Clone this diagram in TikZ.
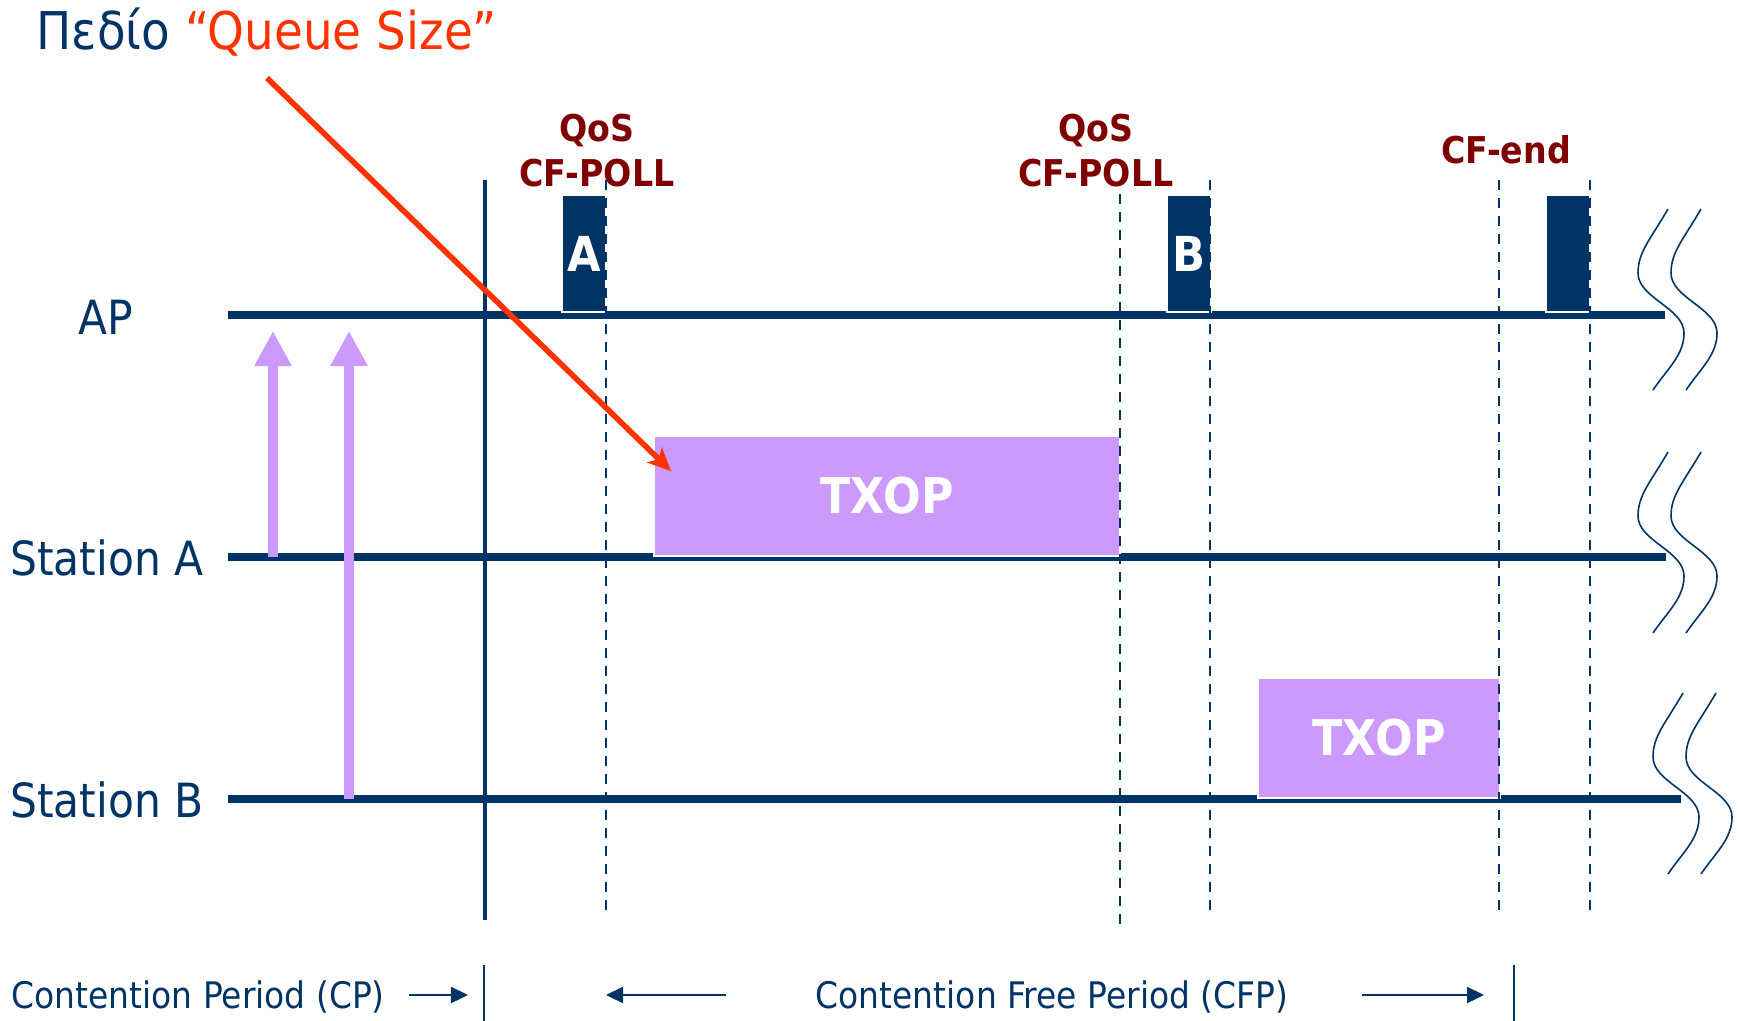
\documentclass[tikz,border=0pt]{standalone}
\usepackage{fontspec}
\setmainfont{DejaVu Sans}[FakeStretch=0.9]
\usepackage{xcolor}
\usepackage{tikz}
\usetikzlibrary{arrows.meta}
\usetikzlibrary{positioning}

\definecolor{navy}{HTML}{003366}
\definecolor{lilac}{HTML}{CC99FF}
\definecolor{poll}{HTML}{800000}
\definecolor{hint}{HTML}{FF3300}

\tikzset{
  lane/.style={draw=navy, line width=2pt},
  cut/.style={draw=navy, line width=1.3pt},
  guide/.style={draw=navy, line width=0.8pt, dash pattern=on 1mm off 0.8mm},
  slot/.style={fill=navy, draw=white, line width=0.5pt, text=white, inner sep=0pt,
    minimum width=0.44cm, minimum height=1.17cm, anchor=south west,
    font=\bfseries\fontsize{13.7}{14}\selectfont},
  txop/.style={fill=lilac, draw=white, line width=0.6pt, text=white, inner sep=0pt,
    minimum height=1.2cm, anchor=south west, font=\bfseries\fontsize{14}{14}\selectfont},
  frame/.style={text=poll, align=center, font=\bfseries\fontsize{10.5}{12.8}\selectfont},
  who/.style={text=navy, font=\fontsize{13.4}{15}\selectfont},
  period/.style={text=navy, font=\fontsize{10.4}{12}\selectfont},
  request/.style={draw=lilac, line width=3.1pt, -{Triangle[width=3.5mm,length=3.5mm]}},
  span/.style={draw=navy, line width=0.65pt, -{Triangle[width=1.6mm,length=1.7mm]}},
  wave/.style={draw=navy, line width=0.45pt},
}

\begin{document}
\begin{tikzpicture}[x=0.01cm, y=-0.01cm]
    \useasboundingbox (0,0) rectangle (1739,1021);

    % title and pointer
    \node[anchor=base west, inner sep=0pt, font=\fontsize{14.8}{16}\selectfont] (title) at (36,50)
      {\textcolor{navy}{Πεδίο} \textcolor{hint}{“Queue Size”}};
    \coordinate (hintS) at (267,78);
    \coordinate (hintE) at (671,471);

    % time lines
    \node[who] (ap) at (106,317) {AP};
    \node[who] (sta) at (107,558) {Station A};
    \node[who] (stb) at (107,800) {Station B};
    \coordinate (apL) at (228,315);  \coordinate (apR) at (1665,315);
    \coordinate (saL) at (228,557);  \coordinate (saR) at (1666,557);
    \coordinate (sbL) at (228,799);  \coordinate (sbR) at (1681,799);
    \draw[lane] (apL) -- (apR);
    \draw[lane] (saL) -- (saR);
    \draw[lane] (sbL) -- (sbR);

    % requests sent in the contention period
    \coordinate (reqA) at (273,557);  \coordinate (reqAtip) at (273,331);
    \coordinate (reqB) at (349,799);  \coordinate (reqBtip) at (349,331);
    \draw[request] (reqA) -- (reqAtip);
    \draw[request] (reqB) -- (reqBtip);

    % frames
    \node[slot] (pollA) at (561,313) {A};
    \node[slot] (pollB) at (1166,313) {B};
    \node[slot] (cfend) at (1545,313) {};
    \node[txop, minimum width=4.66cm] (txopA) at (653,557) {TXOP};
    \node[txop, minimum width=2.42cm] (txopB) at (1257,799) {TXOP};

    \node[frame] (qosA) at (597,151) {QoS\\CF-POLL};
    \node[frame] (qosB) at (1096,151) {QoS\\CF-POLL};
    \node[frame] (endlbl) at (1506,150) {CF-end};

    % guides
    \foreach \x/\a/\b in {606/180/918, 1120/194/932, 1210/180/917, 1499/180/917, 1590/180/917}
      \draw[guide] (\x,\a) -- (\x,\b);
    \draw[cut] (485,180) -- (485,920);

    % breaks
    \foreach \dx/\dy in {0/0, 0/243, 15/484} {
      \begin{scope}[shift={(\dx,\dy)}]
        \foreach \s in {0,33}
          \draw[wave] (1668+\s,209) .. controls (1650+\s,240) and (1638+\s,252) .. (1638+\s,273)
            .. controls (1638+\s,298) and (1684+\s,308) .. (1684+\s,333)
            .. controls (1684+\s,355) and (1668+\s,368) .. (1653+\s,390);
      \end{scope}
    }

    % periods
    \node[period, anchor=west, inner sep=0pt] (cp) at (11,997) {Contention Period (CP)};
    \node[period, inner sep=0pt] (cfp) at (1052,997) {Contention Free Period (CFP)};
    \coordinate (cpS) at (409,995);  \coordinate (cpE) at (468,995);
    \coordinate (cfpLS) at (726,995);  \coordinate (cfpLE) at (606,995);
    \coordinate (cfpRS) at (1362,995);  \coordinate (cfpRE) at (1484,995);
    \draw[span] (cpS) -- (cpE);
    \draw[span] (cfpLS) -- (cfpLE);
    \draw[span] (cfpRS) -- (cfpRE);
    \draw[navy, line width=0.4pt] (484,965) -- (484,1021);
    \draw[navy, line width=0.4pt] (1514,965) -- (1514,1021);

    \draw[hint, line width=1.6pt, -{Stealth[length=2.3mm,width=2.1mm,inset=0.6mm]}] (hintS) -- (hintE);
\end{tikzpicture}
\end{document}
